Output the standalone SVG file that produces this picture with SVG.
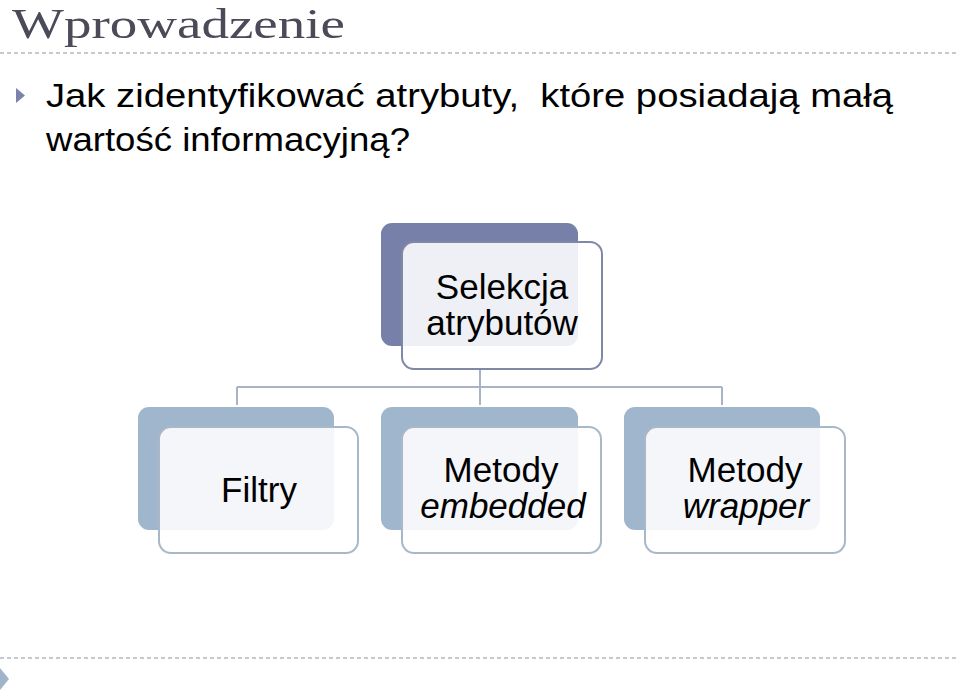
<svg xmlns="http://www.w3.org/2000/svg" width="959" height="691" viewBox="0 0 959 691">
<style>
.title{font-family:"Liberation Serif",serif;font-size:42px;fill:#4a4a58}
.body{font-family:"Liberation Sans",Arial,sans-serif;font-size:33px;fill:#000;white-space:pre}
.lbl{font-family:"Liberation Sans",Arial,sans-serif;font-size:35px;fill:#000;text-anchor:middle}
.it{font-style:italic}
.dash{stroke:#b4b8c0;stroke-width:1.5;stroke-dasharray:4 3}
.backTop{fill:#7780a8}
.back{fill:#a0b6cd}
.front{fill:#fff;fill-opacity:0.88;stroke-width:2}
.frontTop{stroke:#8088a8}
.frontLow{stroke:#a8b8c8}
.conn{stroke:#a8b4c4;stroke-width:2;fill:none}
</style>
<rect width="959" height="691" fill="#fff"/>
<text class="title" x="12" y="37.5" textLength="333" lengthAdjust="spacingAndGlyphs">Wprowadzenie</text>
<line class="dash" x1="0" y1="53" x2="959" y2="53"/>
<polygon points="16,88 25,95.5 16,103" fill="#7a84aa"/>
<text class="body" x="46" y="107" textLength="847" lengthAdjust="spacingAndGlyphs" xml:space="preserve">Jak zidentyfikować atrybuty,  które posiadają małą</text>
<text class="body" x="46" y="151" textLength="364" lengthAdjust="spacingAndGlyphs">wartość informacyjną?</text>
<line class="dash" x1="0" y1="658" x2="959" y2="658"/>
<polygon points="0,668 9,679 0,690" fill="#a0b4cc"/>
<g id="connectors">
<path class="conn" d="M480,369 V387 M237,387 H722 M237,387 V405 M480,387 V405 M722,387 V405"/>
</g>
<g id="node-selekcja">
<rect class="backTop" x="381" y="223" width="197" height="123" rx="11"/>
<rect class="front frontTop" x="402" y="242" width="200" height="127" rx="12"/>
<text class="lbl" x="502" y="299">Selekcja</text>
<text class="lbl" x="502" y="335">atrybutów</text>
</g>
<g id="node-filtry">
<rect class="back" x="138" y="407" width="196" height="123" rx="11"/>
<rect class="front frontLow" x="159" y="427" width="199" height="126" rx="12"/>
<text class="lbl" x="259" y="502">Filtry</text>
</g>
<g id="node-embedded">
<rect class="back" x="381" y="407" width="197" height="123" rx="11"/>
<rect class="front frontLow" x="402" y="427" width="199" height="126" rx="12"/>
<text class="lbl" x="501" y="482">Metody</text>
<text class="lbl it" x="503" y="518">embedded</text>
</g>
<g id="node-wrapper">
<rect class="back" x="624" y="407" width="196" height="123" rx="11"/>
<rect class="front frontLow" x="645" y="427" width="200" height="126" rx="12"/>
<text class="lbl" x="745" y="482">Metody</text>
<text class="lbl it" x="746" y="518">wrapper</text>
</g>
</svg>
